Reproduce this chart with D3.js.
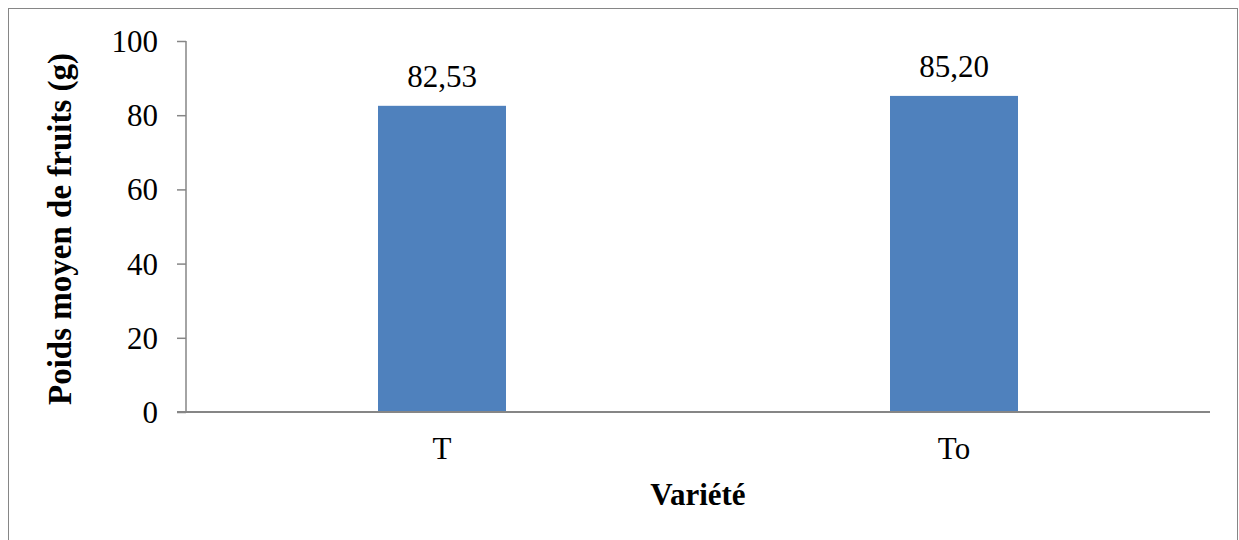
<!DOCTYPE html>
<html>
<head>
<meta charset="utf-8">
<script src="https://cdn.jsdelivr.net/npm/d3@7"></script>
<style>
  html, body { margin: 0; padding: 0; background: #fff; }
  svg { display: block; }
</style>
</head>
<body>
<svg id="chart" width="1239" height="540"></svg>
<script>
const categories = ["T", "To"];
const values = [82.53, 85.20];
const valueLabels = ["82,53", "85,20"];
const yTicks = [0, 20, 40, 60, 80, 100];
const yTitle = "Poids moyen de fruits (g)";
const xTitle = "Variété";

const FONT = "'Liberation Serif', 'Times New Roman', 'DejaVu Serif', serif";
const svg = d3.select("#chart");
const mLeft = 186, mRight = 1210, mTop = 41, mBottom = 412;

// outer border
svg.append("rect")
  .attr("x", 8.5).attr("y", 8.5)
  .attr("width", 1229).attr("height", 560)
  .attr("fill", "#fff").attr("stroke", "#868686").attr("stroke-width", 1);

const x = d3.scaleBand().domain(categories).range([mLeft, mRight]).paddingInner(0).paddingOuter(0);
const y = d3.scaleLinear().domain([0, 100]).range([mBottom, mTop]);

const barW = x.bandwidth() * 0.25;

// bars
svg.selectAll("rect.bar").data(values).enter().append("rect")
  .attr("class", "bar")
  .attr("x", (d, i) => x(categories[i]) + x.bandwidth() / 2 - barW / 2)
  .attr("width", barW)
  .attr("y", d => y(d))
  .attr("height", d => y(0) - y(d))
  .attr("fill", "#4f81bd");

// y axis
const yAxis = d3.axisLeft(y).tickValues(yTicks).tickSize(9).tickPadding(19).tickFormat(d3.format("d"));
const gy = svg.append("g").attr("transform", `translate(${mLeft},0)`).call(yAxis)
  .attr("font-family", null).attr("font-size", null);
gy.select(".domain").attr("stroke", "#868686").attr("stroke-width", 1.5).attr("d", `M0,${mTop}V${mBottom}`);
gy.selectAll(".tick line").attr("stroke", "#868686").attr("stroke-width", 1.5);
gy.selectAll(".tick text").style("font-family", FONT).style("font-size", "31px").attr("fill", "#000").attr("dy", "0.34em");

// x axis
const xAxis = d3.axisBottom(x).tickSize(0).tickPadding(0);
const gx = svg.append("g").attr("transform", `translate(0,${mBottom})`).call(xAxis)
  .attr("font-family", null).attr("font-size", null);
gx.select(".domain").attr("stroke", "#868686").attr("stroke-width", 2).attr("d", `M${mLeft - 9},0H${mRight}`);
gx.selectAll(".tick text").style("font-family", FONT).style("font-size", "31px").attr("fill", "#000")
  .attr("dy", null).attr("y", 47);

// value labels
svg.selectAll("text.val").data(values).enter().append("text")
  .attr("class", "val")
  .attr("x", (d, i) => x(categories[i]) + x.bandwidth() / 2)
  .attr("y", d => y(d) - 19)
  .attr("text-anchor", "middle")
  .style("font-family", FONT)
  .style("font-size", "31px")
  .text((d, i) => valueLabels[i]);

// y title
svg.append("text")
  .attr("transform", `translate(71,229) rotate(-90)`)
  .attr("text-anchor", "middle")
  .style("font-family", FONT)
  .style("font-size", "33px")
  .style("font-weight", "bold")
  .text(yTitle);

// x title
svg.append("text")
  .attr("x", (mLeft + mRight) / 2)
  .attr("y", 505)
  .attr("text-anchor", "middle")
  .style("font-family", FONT)
  .style("font-size", "31px")
  .style("font-weight", "bold")
  .text(xTitle);
</script>
</body>
</html>
